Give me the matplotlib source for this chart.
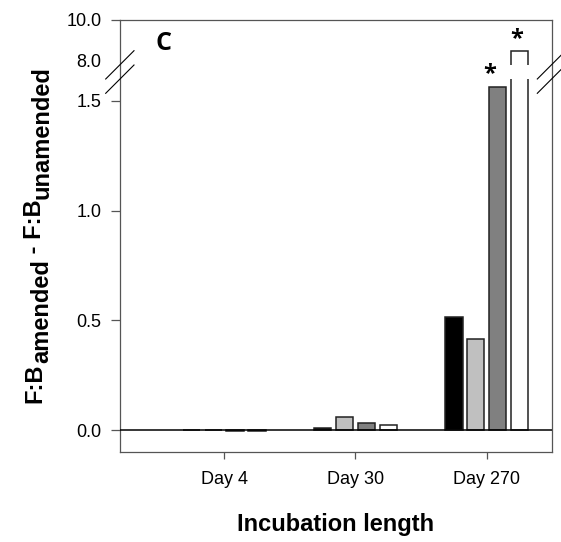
import numpy as np
import matplotlib
matplotlib.use("Agg")
import matplotlib.pyplot as plt
from matplotlib.patches import Rectangle

plt.rcParams["font.family"] = ["Liberation Sans", "DejaVu Sans"]

# ── data ──────────────────────────────────────────────────────────────────
days = ["Day 4", "Day 30", "Day 270"]
series_colors = ["#000000", "#c0c0c0", "#808080", "#ffffff"]
vals_s1 = [0.001, 0.009, 0.516]
vals_s2 = [0.001, 0.059, 0.413]
vals_s3 = [-0.004, 0.032, 1.565]
vals_s4 = [-0.004, 0.021, 8.5]
series = [vals_s1, vals_s2, vals_s3, vals_s4]
# (series, group, x offset of the star in px)
starred = [(2, 2, -8.5), (3, 2, -3.0)]

yticks = [0.0, 0.5, 1.0, 1.5, 8.0, 10.0]
ylabel_parts = [("F:B", False), ("amended", True), (" - F:B", False), ("unamended", True)]
xlabel = "Incubation length"

# broken axis: lower part -0.1..1.6, upper 7.82..10
BRK_LO, BRK_HI = 1.6, 7.82
LO_PX, HI_PX, GAP_PX = 220.0, 20.5, 14.3
val_pts = np.array([-5.0, BRK_LO, BRK_HI, 20.0])
pos_pts = np.array([-5.0 * LO_PX, BRK_LO * LO_PX, BRK_LO * LO_PX + GAP_PX,
                    BRK_LO * LO_PX + GAP_PX + (20.0 - BRK_HI) * HI_PX])


def fwd(y):
    return np.interp(y, val_pts, pos_pts)


def inv(p):
    return np.interp(p, pos_pts, val_pts)


W, H = 561, 542
fig = plt.figure(figsize=(W / 100, H / 100), dpi=100)
ax = fig.add_axes([120 / W, 1 - 452 / H, 432 / W, 432 / H])
ax.set_yscale("function", functions=(fwd, inv))

x = np.arange(1, len(days) + 1)
pitch = 0.1675
width = 0.133
for i, (vals, col) in enumerate(zip(series, series_colors)):
    ax.bar(x + (i - 1.5) * pitch, vals, width, color=col,
           edgecolor="#222222", linewidth=1.1, zorder=2)

# gap in the tall bar
for i, vals in enumerate(series):
    for j, v in enumerate(vals):
        if v > BRK_HI:
            xc = x[j] + (i - 1.5) * pitch
            ax.add_patch(Rectangle((xc - width, BRK_LO), 2 * width, BRK_HI - BRK_LO,
                                   facecolor="white", edgecolor="none", zorder=3))

for si, gi, dx in starred:
    xc = x[gi] + (si - 1.5) * pitch
    ax.annotate("*", (xc, series[si][gi]), xytext=(dx * 0.72, 0), textcoords="offset points",
                ha="center", va="bottom", fontsize=17, fontweight="bold",
                family="Open Sans", zorder=4)

ax.axhline(0, color="black", linewidth=1.1, zorder=3)

ax.set_xlim(0.206, 3.497)
ax.set_ylim(-0.1, 10.0)
ax.set_xticks(x)
ax.set_xticklabels(days, fontsize=13)
ax.set_yticks(yticks)
ax.set_yticklabels([f"{t:.1f}" for t in yticks], fontsize=13)
ax.tick_params(axis="y", direction="out", length=6.5, width=0.9, color="#555555", pad=7)
ax.tick_params(axis="x", direction="out", length=5, width=0.9, color="#555555", pad=9)
for t, tk in zip(yticks, ax.yaxis.get_major_ticks()):
    if t == 8.0:
        tk.tick1line.set_visible(False)
for sp in ax.spines.values():
    sp.set_color("#555555")
    sp.set_linewidth(0.9)


def px(xp, yp):
    return xp / W, 1 - yp / H


# break marks
for x0, x1 in [(105.7, 134.0), (537.3, 566.0)]:
    for y0 in (79.0, 93.3):
        fig.add_artist(plt.Line2D([px(x0, 0)[0], px(x1, 0)[0]],
                                  [px(0, y0)[1], px(0, y0 - (x1 - x0))[1]],
                                  color="black", linewidth=0.8))

ax.text(0.100, 0.946, "C", transform=ax.transAxes, ha="center", va="center",
        fontsize=18, fontweight="bold", family="Open Sans")

# y label built from pieces so the subscripts keep full size
renderer = fig.canvas.get_renderer()
lab_fs = 17
widths = []
for s, _ in ylabel_parts:
    t = fig.text(0, 0, s, fontsize=lab_fs, fontweight="bold")
    widths.append(t.get_window_extent(renderer).width)
    t.remove()
cur = (H - 234.5) - sum(widths) / 2
for (s, sub), w in zip(ylabel_parts, widths):
    xb = 48.5 if sub else 41.0
    fig.text(xb / W, cur / H, s, fontsize=lab_fs, fontweight="bold", rotation=90,
             rotation_mode="anchor", ha="left", va="baseline")
    cur += w

fig.text(*px(336, 524.5), xlabel, ha="center", va="center",
         fontsize=17, fontweight="bold")

fig.savefig("out.png", dpi=100)
